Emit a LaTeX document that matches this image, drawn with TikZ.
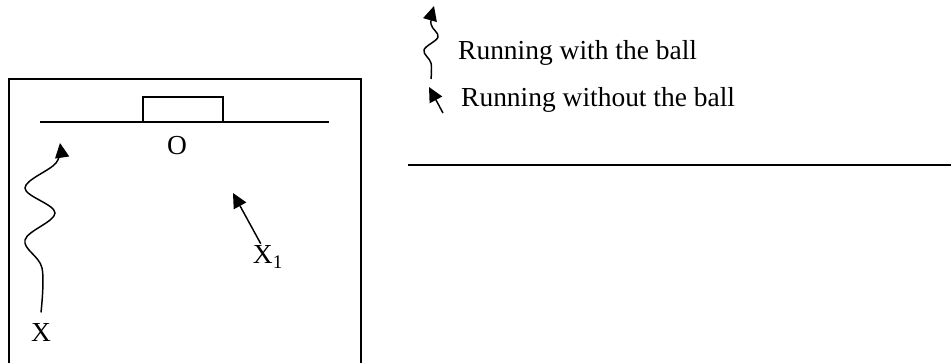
\documentclass[tikz,border=0pt]{standalone}
\usepackage{fontspec}
\setmainfont{Liberation Serif}
\usetikzlibrary{arrows.meta}

\tikzset{every picture/.style={line width=1.3pt}}
\tikzset{
  runarrow/.style={line width=1.1pt, -{Triangle[length=11pt,width=10.5pt]}},
  lbl/.style={font=\fontsize{20.6}{24}\selectfont, inner sep=1pt}
}

\begin{document}
\begin{tikzpicture}[x=0.75pt,y=0.75pt,yscale=-1,xscale=1]
\useasboundingbox (0,0) rectangle (951,363);

%Shape: Pitch
\draw    (9,366) -- (9,79) -- (361,79) -- (361,366) ;
%Straight Lines: goal line
\draw    (40,122) -- (329,122) ;
%Shape: Goal
\draw [line width=1pt]  (143,122) -- (143,97) -- (223,97) -- (223,122) ;

% Text Node
\node[lbl] (goal) at (177,146) {O};
% Text Node
\node[lbl] (X) at (41,333) {X};
% Text Node
\node[lbl] (X1) at (268,257) {X\textsubscript{1}};

\coordinate (Xtip) at (60,143);
\coordinate (X1tip) at (233,193);

%Curve Lines: running with the ball
\draw[runarrow] plot[smooth, tension=0.6] coordinates {([yshift=-7pt]X.north) (42,268) (25,240) (55,213) (25,188) (56,163) (Xtip)};
%Straight Lines: running without the ball
\draw[runarrow] (X1) -- (X1tip) ;

% Legend
\node[lbl, anchor=west] (legwith) at (456,53) {Running with the ball};
\node[lbl, anchor=west] (legwithout) at (459,100) {Running without the ball};

\coordinate (wtail) at (431,79);
\coordinate (wtip) at (434,6);
\coordinate (otail) at (443,113);
\coordinate (otip) at (429,87);

%Curve Lines
\draw[runarrow] plot[smooth, tension=0.6] coordinates {(wtail) (431,63) (424,50) (438,37) (431,24) (wtip)};
%Straight Lines
\draw[runarrow] (otail) -- (otip) ;

%Straight Lines: divider
\draw    (408,165) -- (951,165) ;

\end{tikzpicture}
\end{document}
